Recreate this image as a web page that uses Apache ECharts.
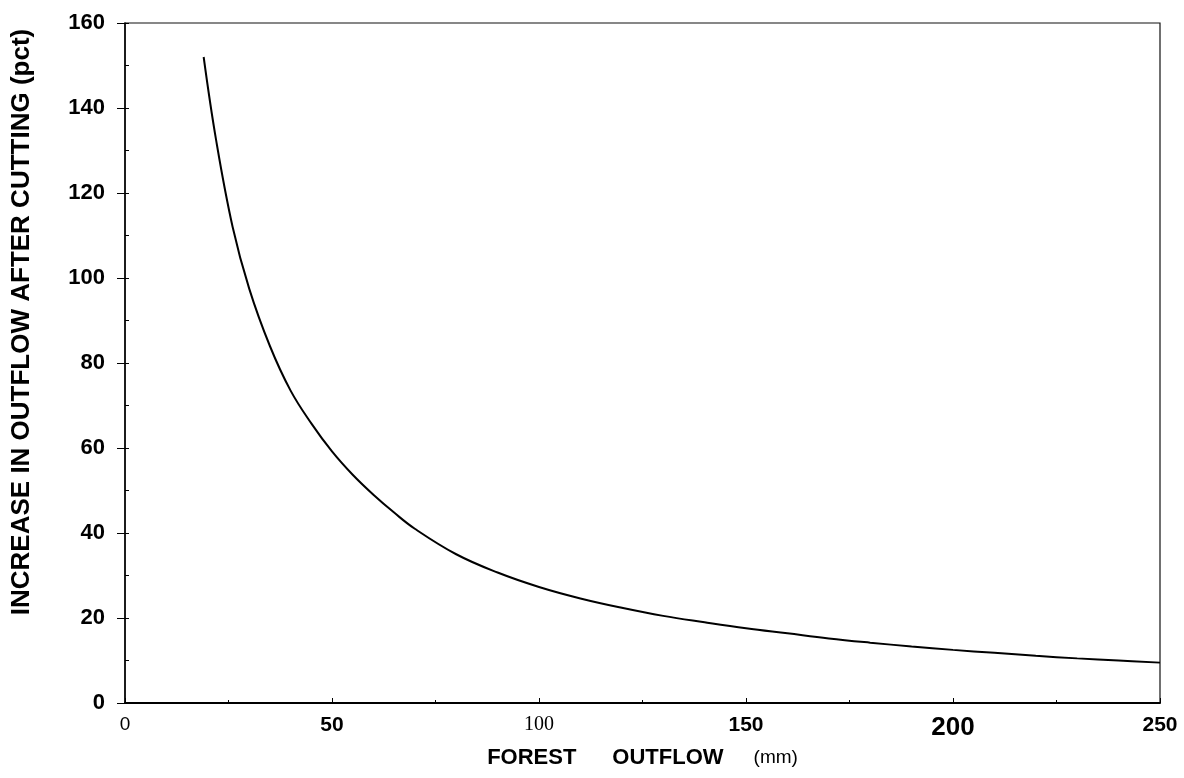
<!DOCTYPE html>
<html>
<head>
<meta charset="utf-8">
<script src="https://cdn.jsdelivr.net/npm/echarts@6/dist/echarts.min.js"></script>
<style>
html,body{margin:0;padding:0;background:#fff;}
#chart{width:1184px;height:778px;}
</style>
</head>
<body>
<div id="chart"></div>
<script>
// Data
const outflowMm = [19, 22, 26, 30, 35, 40, 45, 50, 55, 60, 65, 70, 80, 90, 100, 110, 120, 130, 140, 150, 160, 170, 180, 190, 200, 210, 220, 230, 240, 250];
const increasePct = [152, 132.5, 112, 97.5, 84, 73.5, 65.8, 59.2, 53.7, 49, 44.8, 41, 35, 30.7, 27.3, 24.6, 22.4, 20.5, 19, 17.6, 16.4, 15.2, 14.2, 13.3, 12.5, 11.8, 11.1, 10.5, 10, 9.5];
const xTickLabels = ['0', '50', '100', '150', '200', '250'];
const yTickLabels = ['0', '20', '40', '60', '80', '100', '120', '140', '160'];
const xTitle = ['FOREST', 'OUTFLOW', '(mm)'];
const yTitle = 'INCREASE IN OUTFLOW AFTER CUTTING (pct)';

const chart = echarts.init(document.getElementById('chart'), null, {renderer: 'canvas'});
const styleKeys = [null, 'bold', 'serif', 'bold', 'big', 'bold'];
const option = {
  backgroundColor: '#fff',
  animation: false,
  grid: {left: 125, right: 24, top: 23, bottom: 75, show: true, borderColor: '#111', borderWidth: 1.2, backgroundColor: 'transparent'},
  xAxis: {
    type: 'value', min: 0, max: 250, interval: 50,
    axisLine: {show: true, onZero: false, lineStyle: {color: '#000', width: 1.8}},
    axisTick: {show: true, inside: true, length: 5, lineStyle: {color: '#000', width: 1}},
    minorTick: {show: true, splitNumber: 2, length: 3, lineStyle: {color: '#000'}},
    splitLine: {show: false},
    axisLabel: {
      margin: 12,
      fontFamily: 'Liberation Sans', fontWeight: 'normal', fontSize: 19, color: '#000',
      formatter: function (v) {
        const i = Math.round(Number(v) / 50);
        if (!styleKeys[i]) return xTickLabels[i];
        return '{' + styleKeys[i] + '|' + xTickLabels[i] + '}';
      },
      rich: {
        bold: {fontFamily: 'Liberation Sans', fontWeight: 'bold', fontSize: 21, color: '#000'},
        serif: {fontFamily: 'Liberation Serif', fontSize: 20, color: '#000'},
        big: {fontFamily: 'Liberation Sans', fontWeight: 'bold', fontSize: 26, color: '#000'}
      }
    },
    name: '{f|' + xTitle[0] + '}{o|' + xTitle[1] + '}{m|' + xTitle[2] + '}',
    nameLocation: 'middle',
    nameGap: 44,
    nameTextStyle: {
      rich: {
        f: {fontFamily: 'Liberation Sans, Arial', fontWeight: 'bold', fontSize: 22, color: '#000', padding: [0, 36, 0, 0]},
        o: {fontFamily: 'Liberation Sans, Arial', fontWeight: 'bold', fontSize: 22, color: '#000', padding: [0, 30, 0, 0]},
        m: {fontFamily: 'Liberation Sans, Arial', fontSize: 19, color: '#000'}
      }
    }
  },
  yAxis: [{
    type: 'value', min: 0, max: 160, interval: 20,
    axisLine: {show: true, onZero: false, lineStyle: {color: '#000', width: 1.5}},
    axisTick: {show: true, inside: false, length: 8, lineStyle: {color: '#000', width: 1}},
    splitLine: {show: false},
    axisLabel: {
      margin: 20,
      formatter: function (v) { return yTickLabels[Math.round(v / 20)]; },
      fontFamily: 'Liberation Sans, Arial', fontWeight: 'bold', fontSize: 22, color: '#000'
    }
  }, {
    type: 'value', min: 0, max: 160, interval: 10, position: 'left',
    axisLine: {show: false},
    axisTick: {show: true, inside: true, length: 4, lineStyle: {color: '#000', width: 1}},
    axisLabel: {show: false},
    splitLine: {show: false}
  }],
  graphic: [{
    type: 'text',
    rotation: Math.PI / 2,
    x: 22, y: 322,
    style: {
      text: yTitle,
      fontFamily: 'Liberation Sans, Arial', fontWeight: 'bold', fontSize: 26, fill: '#000',
      align: 'center', verticalAlign: 'middle'
    }
  }],
  series: [{
    type: 'line',
    data: outflowMm.map((x, i) => [x, increasePct[i]]),
    smooth: 0.4,
    showSymbol: false,
    lineStyle: {color: '#000', width: 2}
  }]
};
chart.setOption(option);
</script>
</body>
</html>
